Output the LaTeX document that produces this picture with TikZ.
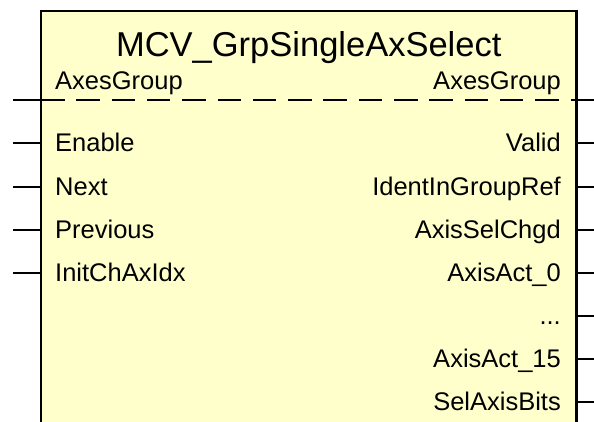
\documentclass[tikz,border=0pt]{standalone}
\usepackage{fontspec}
\setmainfont{Liberation Sans}
\definecolor{fbfill}{HTML}{FFFFCC}
\newcommand\myellip{...}
\tikzset{
  pinline/.style={line width=2pt},
  boxline/.style={line width=2.6pt, line join=miter},
  sepline/.style={line width=2.5pt, dash pattern=on 23.5pt off 11.8pt},
  rowlbl/.style={inner sep=0pt, font=\fontsize{25.5}{28}\selectfont},
  titlelbl/.style={inner sep=0pt, anchor=base, font=\fontsize{34.5}{38}\selectfont}
}
\begin{document}
\begin{tikzpicture}[x=1pt,y=-1pt]
\useasboundingbox (0,0) rectangle (594,422);
\clip (0,0) rectangle (594,422);
% box
\fill[fbfill] (41,11) rectangle (576.5,440);
\draw[boxline] (41,440) -- (41,11) -- (576.5,11) -- (576.5,440);
% title
\node[titlelbl] (title) at (308.75,56.5) {MCV\_GrpSingleAxSelect};
% in-out AxesGroup
\node[rowlbl, anchor=base west] (agin) at (55,90) {AxesGroup};
\node[rowlbl, anchor=base east] (agout) at (561,90) {AxesGroup};
\coordinate (sepL) at (13,100);
\coordinate (sepA) at (41,100);
\coordinate (sepB) at (576.5,100);
\coordinate (sepR) at (594,100);
\draw[pinline] (sepL) -- (sepA);
\draw[sepline] (sepA) -- (sepB);
\draw[pinline] (sepB) -- (sepR);
% inputs
\foreach \t [count=\i from 0] in {Enable,Next,Previous,InitChAxIdx}{
  \coordinate (inL\i) at (13,143.5+43.1*\i);
  \coordinate (inB\i) at (41,143.5+43.1*\i);
  \draw[pinline] (inL\i) -- (inB\i);
  \node[rowlbl, anchor=base west] (in\i) at (55,152+43.1*\i) {\t};
}
% outputs
\foreach \t [count=\i from 0] in {Valid,IdentInGroupRef,AxisSelChgd,AxisAct\_0,\myellip,AxisAct\_15,SelAxisBits}{
  \coordinate (outB\i) at (576.5,143.5+43.1*\i);
  \coordinate (outR\i) at (594,143.5+43.1*\i);
  \draw[pinline] (outB\i) -- (outR\i);
  \node[rowlbl, anchor=base east] (out\i) at (561,152+43.1*\i) {\t};
}
\end{tikzpicture}
\end{document}
